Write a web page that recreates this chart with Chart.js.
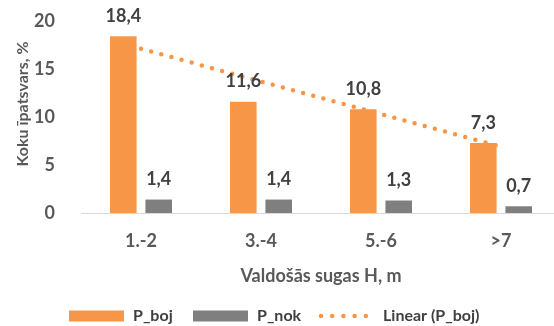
<!DOCTYPE html>
<html>
<head>
<meta charset="utf-8">
<script src="https://cdn.jsdelivr.net/npm/chart.js@4/dist/chart.umd.min.js"></script>
<style>
  html, body { margin: 0; padding: 0; background: #fff; overflow: hidden; width: 554px; height: 326px; }
  #wrap { width: 570px; height: 326px; }
</style>
</head>
<body>
<div id="wrap"><canvas id="c" width="570" height="326"></canvas></div>
<script>
// Height classes of the dominant species
const categories = ['1.-2', '3.-4', '5.-6', '>7'];
// Share of damaged trees, %
const pBoj = [18.4, 11.6, 10.8, 7.3];
// Share of dead trees, %
const pNok = [1.4, 1.4, 1.3, 0.7];
// Linear trend of P_boj at each class
const linearPBoj = [17.1, 13.7, 10.3, 6.9];
const yTicks = [0, 5, 10, 15, 20];

const FONT = 'Lato, "Open Sans", sans-serif';
const ORANGE = '#F79646';
const GREY = '#7F7F7F';
const TEXT = '#404040';
const TICK = '#595959';

// Value labels above the bars, decimal comma
const valueLabels = {
  id: 'valueLabels',
  afterDatasetsDraw(chart) {
    const ctx = chart.ctx;
    ctx.save();
    ctx.font = 'bold 18px ' + FONT;
    ctx.fillStyle = TEXT;
    ctx.textAlign = 'center';
    ctx.textBaseline = 'middle';
    chart.data.datasets.forEach((ds, i) => {
      if (ds.type !== 'bar') return;
      chart.getDatasetMeta(i).data.forEach((el, j) => {
        ctx.fillText(ds.data[j].toFixed(1).replace('.', ','), el.x, el.y - 20);
      });
    });
    ctx.restore();
  }
};

// Y axis title and the legend row under the chart
const extras = {
  id: 'extras',
  afterDraw(chart) {
    const ctx = chart.ctx;
    const area = chart.chartArea;
    ctx.save();
    ctx.font = 'bold 16px ' + FONT;
    ctx.fillStyle = TICK;
    ctx.textAlign = 'center';
    ctx.textBaseline = 'middle';
    ctx.translate(23, (area.top + area.bottom) / 2 - 13);
    ctx.rotate(-Math.PI / 2);
    ctx.fillText('Koku īpatsvars, %', 0, 0);
    ctx.restore();

    ctx.save();
    ctx.font = 'bold 16px ' + FONT;
    ctx.textBaseline = 'middle';
    const y = 316, boxW = 55, gap = 9;
    const starts = [69, 193, 319];
    chart.data.datasets.forEach((ds, i) => {
      const x = starts[i];
      if (ds.type === 'bar') {
        ctx.fillStyle = ds.backgroundColor;
        ctx.fillRect(x, y - 5.5, boxW, 11);
      } else {
        ctx.strokeStyle = ds.borderColor;
        ctx.lineWidth = ds.borderWidth;
        ctx.lineCap = 'round';
        ctx.setLineDash([0, 11.2]);
        ctx.beginPath();
        ctx.moveTo(x + 2, y);
        ctx.lineTo(x + boxW, y);
        ctx.stroke();
        ctx.setLineDash([]);
      }
      ctx.fillStyle = TEXT;
      ctx.textAlign = 'left';
      ctx.fillText(ds.label, x + boxW + gap, y);
    });
    ctx.restore();
  }
};

new Chart(document.getElementById('c'), {
  data: {
    labels: categories,
    datasets: [
      { type: 'bar', label: 'P_boj', data: pBoj, backgroundColor: ORANGE, borderWidth: 0,
        categoryPercentage: 0.59, barPercentage: 0.75, order: 2 },
      { type: 'bar', label: 'P_nok', data: pNok, backgroundColor: GREY, borderWidth: 0,
        categoryPercentage: 0.59, barPercentage: 0.75, order: 3 },
      { type: 'line', label: 'Linear (P_boj)', data: linearPBoj, borderColor: ORANGE,
        backgroundColor: ORANGE, borderWidth: 4.5, borderDash: [0, 10.5], borderCapStyle: 'round',
        pointRadius: 0, fill: false, tension: 0, order: 1 }
    ]
  },
  options: {
    responsive: false,
    animation: false,
    layout: { padding: { left: 11, right: 9, top: 21, bottom: 38 } },
    plugins: {
      tooltip: { enabled: false },
      legend: { display: false }
    },
    scales: {
      x: {
        afterFit(scale) { scale.height = 75; },
        grid: { display: false },
        border: { color: '#D9D9D9', width: 1 },
        ticks: { color: TICK, padding: 9, font: { family: FONT, size: 18, weight: 'bold' } },
        title: { display: true, text: 'Valdošās sugas H, m', color: TICK,
                 font: { family: FONT, size: 18, weight: 'bold' }, padding: { top: 0, bottom: 1 } }
      },
      y: {
        min: 0, max: 20,
        afterBuildTicks(scale) { scale.ticks = yTicks.map(v => ({ value: v })); },
        afterFit(scale) {
          scale.width = 70;
          scale.paddingTop = 10;
          scale.paddingBottom = 10;
        },
        grid: { display: false },
        border: { display: false },
        ticks: { color: TICK, padding: 18, font: { family: FONT, size: 18, weight: 'bold' } }
      }
    }
  },
  plugins: [valueLabels, extras]
});
</script>
</body>
</html>
